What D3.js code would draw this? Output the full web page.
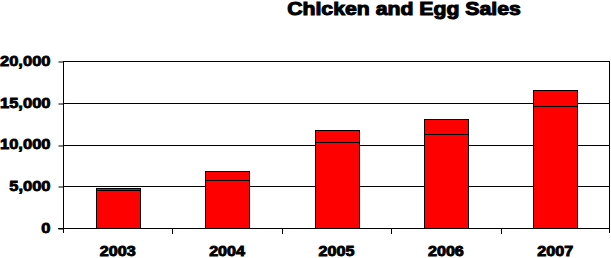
<!DOCTYPE html>
<html>
<head>
<meta charset="utf-8">
<script src="https://cdn.jsdelivr.net/npm/d3@7"></script>
<style>
  body { margin: 0; background: #fff; }
  text { font-family: "Liberation Sans", Arial, sans-serif; font-weight: bold; fill: #000; }
</style>
</head>
<body>
<div id="chart"></div>
<script>
var years = ["2003", "2004", "2005", "2006", "2007"];
var lowerSales = [4600, 5700, 10300, 11300, 14600];
var upperSales = [200, 1100, 1400, 1700, 1900];
var yTicks = [0, 5000, 10000, 15000, 20000];
var chartTitle = "Chicken and Egg Sales";

var margin = {top: 61, right: 1, bottom: 30, left: 63},
    width = 611 - margin.left - margin.right,
    height = 258 - margin.top - margin.bottom;

var svg = d3.select("#chart")
    .append("svg")
        .attr("width", 611)
        .attr("height", 258)
    .append("g")
        .attr("transform", "translate(" + margin.left + "," + margin.top + ")");

var x = d3.scaleBand()
    .domain(years)
    .range([0, width])
    .paddingInner(0.6)
    .paddingOuter(0.3);

var xb = d3.scaleBand().domain(years).range([0, width]);

var y = d3.scaleLinear()
    .domain([0, 20000])
    .range([height, 0]);

// widen text a bit to look like the heavy original font
function widen(sel, k) {
    sel.each(function() {
        var w = this.getComputedTextLength();
        d3.select(this).attr("textLength", w * k).attr("lengthAdjust", "spacingAndGlyphs");
    });
}

// gridlines
svg.append("g")
    .selectAll("line")
    .data(yTicks.slice(1))
    .join("line")
        .attr("x1", 0).attr("x2", width)
        .attr("y1", d => Math.round(y(d)) + 0.5)
        .attr("y2", d => Math.round(y(d)) + 0.5)
        .attr("stroke", "#000");

// right edge
svg.append("line")
    .attr("x1", width - 0.5).attr("x2", width - 0.5)
    .attr("y1", 0).attr("y2", height + 5)
    .attr("stroke", "#000");

// stacked bars
var stack = years.map((yr, i) => ({year: yr, lo: lowerSales[i], hi: lowerSales[i] + upperSales[i]}));

svg.append("g").selectAll("rect.lo")
    .data(stack)
    .join("rect")
        .attr("x", d => Math.round(x(d.year)) + 0.5)
        .attr("y", d => Math.round(y(d.lo)) + 0.5)
        .attr("width", Math.round(x.bandwidth()))
        .attr("height", d => Math.round(y(0)) - Math.round(y(d.lo)))
        .attr("fill", "#ff0000")
        .attr("stroke", "#000");

svg.append("g").selectAll("rect.hi")
    .data(stack)
    .join("rect")
        .attr("x", d => Math.round(x(d.year)) + 0.5)
        .attr("y", d => Math.round(y(d.hi)) + 0.5)
        .attr("width", Math.round(x.bandwidth()))
        .attr("height", d => Math.round(y(d.lo)) - Math.round(y(d.hi)))
        .attr("fill", "#ff0000")
        .attr("stroke", "#000");

// y axis
var yAxis = svg.append("g")
    .attr("transform", "translate(0.5,0)")
    .call(d3.axisLeft(y).tickValues(yTicks).tickSize(5).tickFormat(d3.format(",")));
yAxis.select(".domain").attr("d", "M0," + (Math.round(y(20000)) + 0.5) + "V" + (height + 5));
yAxis.selectAll(".tick line").attr("transform", d => "translate(0," + (Math.round(y(d)) - y(d) + 0.5) + ")");
yAxis.selectAll("text")
    .attr("x", 0)
    .attr("transform", "translate(-13,0) scale(1.18,1)")
    .style("font-size", "14px")
    .style("font-family", "'Liberation Sans', Arial, sans-serif")
    .style("font-weight", "bold")
    .attr("stroke", "#000").attr("stroke-width", 0.8);

// x axis
svg.append("line")
    .attr("x1", -5).attr("x2", width)
    .attr("y1", Math.round(y(0)) + 0.5).attr("y2", Math.round(y(0)) + 0.5)
    .attr("stroke", "#000");

svg.append("g").selectAll("line")
    .data(years.slice(1))
    .join("line")
        .attr("x1", d => Math.round(xb(d)) + 0.5)
        .attr("x2", d => Math.round(xb(d)) + 0.5)
        .attr("y1", height).attr("y2", height + 6)
        .attr("stroke", "#000");

svg.append("g").selectAll("text")
    .data(years)
    .join("text")
        .attr("x", d => xb(d) + xb.bandwidth() / 2)
        .attr("y", height + 28)
        .attr("text-anchor", "middle")
        .style("font-size", "14px")
        .attr("stroke", "#000").attr("stroke-width", 0.9)
        .text(d => d)
        .call(widen, 1.15);

// title
d3.select("svg").append("text")
    .attr("x", 404)
    .attr("y", 15)
    .attr("text-anchor", "middle")
    .style("font-size", "18px")
    .attr("stroke", "#000").attr("stroke-width", 1)
    .text(chartTitle)
    .call(widen, 1.18);
</script>
</body>
</html>
